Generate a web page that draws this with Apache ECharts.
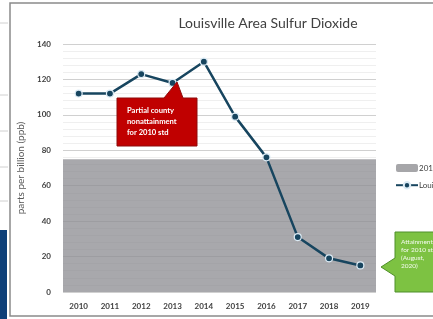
<!DOCTYPE html>
<html>
<head>
<meta charset="utf-8">
<script src="https://cdn.jsdelivr.net/npm/echarts@6/dist/echarts.min.js"></script>
<style>
  html, body { margin: 0; padding: 0; background: #fff; }
  #chart { width: 433px; height: 319px; }
</style>
</head>
<body>
<div id="chart"></div>
<script>
// data
const years = ['2010', '2011', '2012', '2013', '2014', '2015', '2016', '2017', '2018', '2019'];
const so2Values = [112, 112, 123, 118, 130, 99, 76, 31, 19, 15];
const standard2010 = 75; // ppb, drawn as the grey band
const yTicks = { min: 0, max: 140, interval: 20 };

document.addEventListener('DOMContentLoaded', () => {
    const chartDom = document.getElementById('chart');
    const myChart = echarts.init(chartDom);
    const font = 'Lato, "Open Sans", sans-serif';

    const option = {
        animation: false,
        backgroundColor: '#fff',
        title: {
            text: 'Louisville Area Sulfur Dioxide',
            left: 263, top: 11, textAlign: 'center',
            textStyle: { fontFamily: font, fontSize: 14, fontWeight: 'normal', color: '#404040' }
        },
        grid: { left: 63, right: 57, top: 44, bottom: 27 },
        legend: {
            orient: 'vertical',
            left: 390, top: 159,
            itemGap: 9, itemWidth: 22, itemHeight: 8,
            data: ['2010 Standard', 'Louisville Area'],
            textStyle: { fontFamily: font, fontSize: 8, color: '#404040', padding: [0, 0, 0, -4] }
        },
        xAxis: {
            type: 'category',
            data: years,
            axisLine: { show: false },
            axisTick: { show: false },
            axisLabel: { fontFamily: font, fontSize: 8, fontWeight: 'bold', color: '#404040', margin: 10 }
        },
        yAxis: {
            type: 'value',
            min: yTicks.min, max: yTicks.max, interval: yTicks.interval,
            name: 'parts per billion (ppb)',
            nameLocation: 'middle', nameGap: 29,
            nameTextStyle: { fontFamily: font, fontSize: 10, color: '#595959' },
            axisLabel: { fontFamily: font, fontSize: 8, fontWeight: 'bold', color: '#404040', margin: 12 },
            splitLine: { lineStyle: { color: '#d0d0d0', width: 1 } },
            minorTick: { show: false, splitNumber: 5 },
            minorSplitLine: { show: true, lineStyle: { color: '#efefef', width: 1 } }
        },
        series: [
            {
                name: '2010 Standard',
                type: 'bar',
                data: [],
                itemStyle: { color: '#a6a6a9' },
                markArea: {
                    silent: true,
                    itemStyle: { color: 'rgba(140,140,146,0.76)' },
                    data: [[{ yAxis: 0 }, { yAxis: standard2010 }]]
                },
                z: 2
            },
            {
                name: 'Louisville Area',
                type: 'line',
                data: so2Values,
                symbol: 'circle',
                symbolSize: 7,
                lineStyle: { color: '#17455f', width: 2.5 },
                itemStyle: { color: '#17455f', borderColor: '#dcebf5', borderWidth: 1.2 },
                z: 5
            }
        ],
        graphic: [
            // frame of the slide chart
            { type: 'rect', shape: { x: 10, y: 3, width: 440, height: 313 },
              style: { fill: null, stroke: '#8a8a8a', lineWidth: 1.5 }, z: 100 },
            // neighbouring slide content on the left
            { type: 'line', shape: { x1: 0, y1: 23, x2: 8, y2: 23 }, style: { stroke: '#d0d0d0' } },
            { type: 'line', shape: { x1: 0, y1: 95, x2: 8, y2: 95 }, style: { stroke: '#d0d0d0' } },
            { type: 'line', shape: { x1: 0, y1: 131, x2: 8, y2: 131 }, style: { stroke: '#d0d0d0' } },
            { type: 'line', shape: { x1: 0, y1: 167, x2: 8, y2: 167 }, style: { stroke: '#d0d0d0' } },
            { type: 'line', shape: { x1: 0, y1: 201, x2: 8, y2: 201 }, style: { stroke: '#d0d0d0' } },
            { type: 'rect', shape: { x: 0, y: 230, width: 7, height: 89 }, style: { fill: '#0e3f78' } },
            // red callout
            { type: 'polygon', z: 50,
              shape: { points: [[117, 98], [164, 98], [177, 82], [183, 98], [197, 98], [197, 146], [117, 146]] },
              style: { fill: '#c00000', stroke: '#8e0a0a', lineWidth: 1 } },
            { type: 'text', z: 51, left: 127, top: 105,
              style: { text: 'Partial county\nnonattainment\nfor 2010 std', fill: '#fff',
                       font: 'bold 7.6px ' + font, lineHeight: 11 } },
            // green callout
            { type: 'polygon', z: 50,
              shape: { points: [[395, 232], [445, 232], [445, 292], [395, 292], [395, 276], [381, 267], [395, 258]] },
              style: { fill: '#7dc242', stroke: '#4f8f2a', lineWidth: 1 } },
            { type: 'text', z: 51, left: 401, top: 238,
              style: { text: 'Attainment\nfor 2010 std\n(August,\n2020)', fill: '#f4fbef',
                       font: '6.5px ' + font, lineHeight: 8 } }
        ]
    };
    myChart.setOption(option);
    window.addEventListener('resize', () => myChart.resize());
});
</script>
</body>
</html>
